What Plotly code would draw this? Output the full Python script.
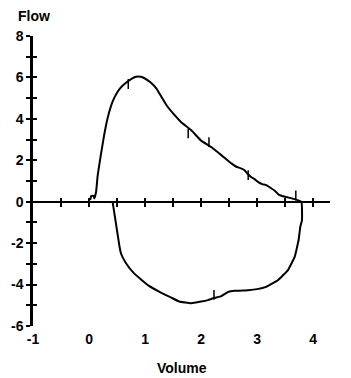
import plotly.graph_objects as go

# Flow-volume loop (expiration then inspiration)
volume = [0.02, 0.04, 0.08, 0.095, 0.125, 0.155, 0.21, 0.27, 0.33, 0.42, 0.51, 0.58, 0.66,
          0.75, 0.84, 0.92, 0.99, 1.10, 1.20, 1.38, 1.52, 1.64, 1.82, 2.00, 2.18, 2.36, 2.54,
          2.62, 2.70, 2.77, 2.83, 2.89, 2.95, 3.02, 3.09, 3.16, 3.25, 3.32, 3.39, 3.50,
          3.66, 3.79,
          3.80, 3.77, 3.74, 3.67, 3.55, 3.37, 3.16, 3.00, 2.84, 2.60, 2.48, 2.36, 2.23,
          2.12, 2.00, 1.82, 1.61, 1.46, 1.29, 1.05, 0.80, 0.66, 0.57, 0.54, 0.42]
flow = [0.08, 0.28, 0.28, 0.16, 0.46, 1.28, 2.25, 3.22, 4.02, 4.83, 5.31, 5.55, 5.74,
        5.92, 6.03, 6.03, 5.96, 5.75, 5.47, 4.67, 4.20, 3.85, 3.46, 2.95, 2.64, 2.25, 1.85,
        1.70, 1.62, 1.53, 1.35, 1.19, 1.10, 0.95, 0.85, 0.80, 0.65, 0.52, 0.33, 0.24,
        0.13, 0.00,
        -0.89, -1.21, -1.85, -2.66, -3.30, -3.79, -4.11, -4.22, -4.27, -4.30, -4.36,
        -4.56, -4.65, -4.75, -4.82, -4.90, -4.82, -4.62, -4.40, -4.03, -3.45, -2.97,
        -2.50, -2.10, 0.00]

# small event marks on the curve
mark_volume = [0.70, 1.77, 2.14, 2.84, 3.69, 2.23]
mark_flow = [5.68, 3.30, 2.88, 1.28, 0.30, -4.50]

x_label_vals = [-1, 0, 1, 2, 3, 4]
x_minor_vals = [-0.5, 0, 0.5, 1, 1.5, 2, 2.5, 3, 3.5, 4]
y_tick_vals = list(range(-6, 9))
y_tick_text = [str(v) if v % 2 == 0 else "" for v in y_tick_vals]

X_RANGE = [-1, 4.3]
Y_RANGE = [-6, 8]
FONT = dict(family="Arial, Liberation Sans, sans-serif", size=14, color="black", weight="bold")

fig = go.Figure()
fig.add_trace(go.Scatter(x=volume, y=flow, mode="lines",
                         line=dict(color="black", width=2, shape="spline", smoothing=0.3),
                         showlegend=False, hoverinfo="skip"))
fig.add_trace(go.Scatter(x=mark_volume, y=mark_flow, mode="markers",
                         marker=dict(symbol="line-ns", size=7, line=dict(color="black", width=1.5)),
                         showlegend=False, hoverinfo="skip"))
# helper traces so the overlay axes are drawn
fig.add_trace(go.Scatter(x=[None], y=[None], xaxis="x2", yaxis="y2", showlegend=False, hoverinfo="skip"))
fig.add_trace(go.Scatter(x=[None], y=[None], xaxis="x3", yaxis="y2", showlegend=False, hoverinfo="skip"))

zero_pos = (0 - Y_RANGE[0]) / (Y_RANGE[1] - Y_RANGE[0])

fig.update_layout(
    width=351, height=378,
    margin=dict(l=33, r=21, t=36, b=52),
    paper_bgcolor="white", plot_bgcolor="white",
    font=FONT,
    xaxis=dict(range=X_RANGE, showline=False, showgrid=False, zeroline=False,
               ticks="outside", ticklen=0, tickcolor="rgba(0,0,0,0)",
               tickvals=x_label_vals, ticktext=[str(v) for v in x_label_vals],
               tickfont=FONT, fixedrange=True),
    xaxis2=dict(overlaying="x", anchor="free", position=zero_pos, range=X_RANGE,
                showline=True, linecolor="black", linewidth=2,
                ticks="outside", ticklen=4, tickwidth=2, tickcolor="black",
                tickvals=x_minor_vals, showticklabels=False,
                showgrid=False, zeroline=False),
    xaxis3=dict(overlaying="x", anchor="free", position=zero_pos, range=X_RANGE,
                showline=False, ticks="inside", ticklen=4, tickwidth=2, tickcolor="black",
                tickvals=x_minor_vals, showticklabels=False,
                showgrid=False, zeroline=False),
    yaxis=dict(range=Y_RANGE, showline=True, linecolor="black", linewidth=2.5,
               ticks="outside", ticklen=4, tickwidth=2, tickcolor="black",
               tickvals=y_tick_vals, ticktext=y_tick_text, tickfont=FONT,
               showgrid=False, zeroline=False),
    yaxis2=dict(overlaying="y", anchor="x", side="left", range=Y_RANGE,
                showline=False, ticks="inside", ticklen=4, tickwidth=2, tickcolor="black",
                tickvals=y_tick_vals, showticklabels=False,
                showgrid=False, zeroline=False),
    annotations=[
        dict(text="Flow", xref="paper", yref="paper", x=0.003, y=1.069,
             xanchor="center", yanchor="middle", showarrow=False, font=FONT),
        dict(text="Volume", xref="paper", yref="paper", x=0.5, y=-0.145,
             xanchor="center", yanchor="middle", showarrow=False, font=FONT),
    ],
)

fig.write_html("out.html")
